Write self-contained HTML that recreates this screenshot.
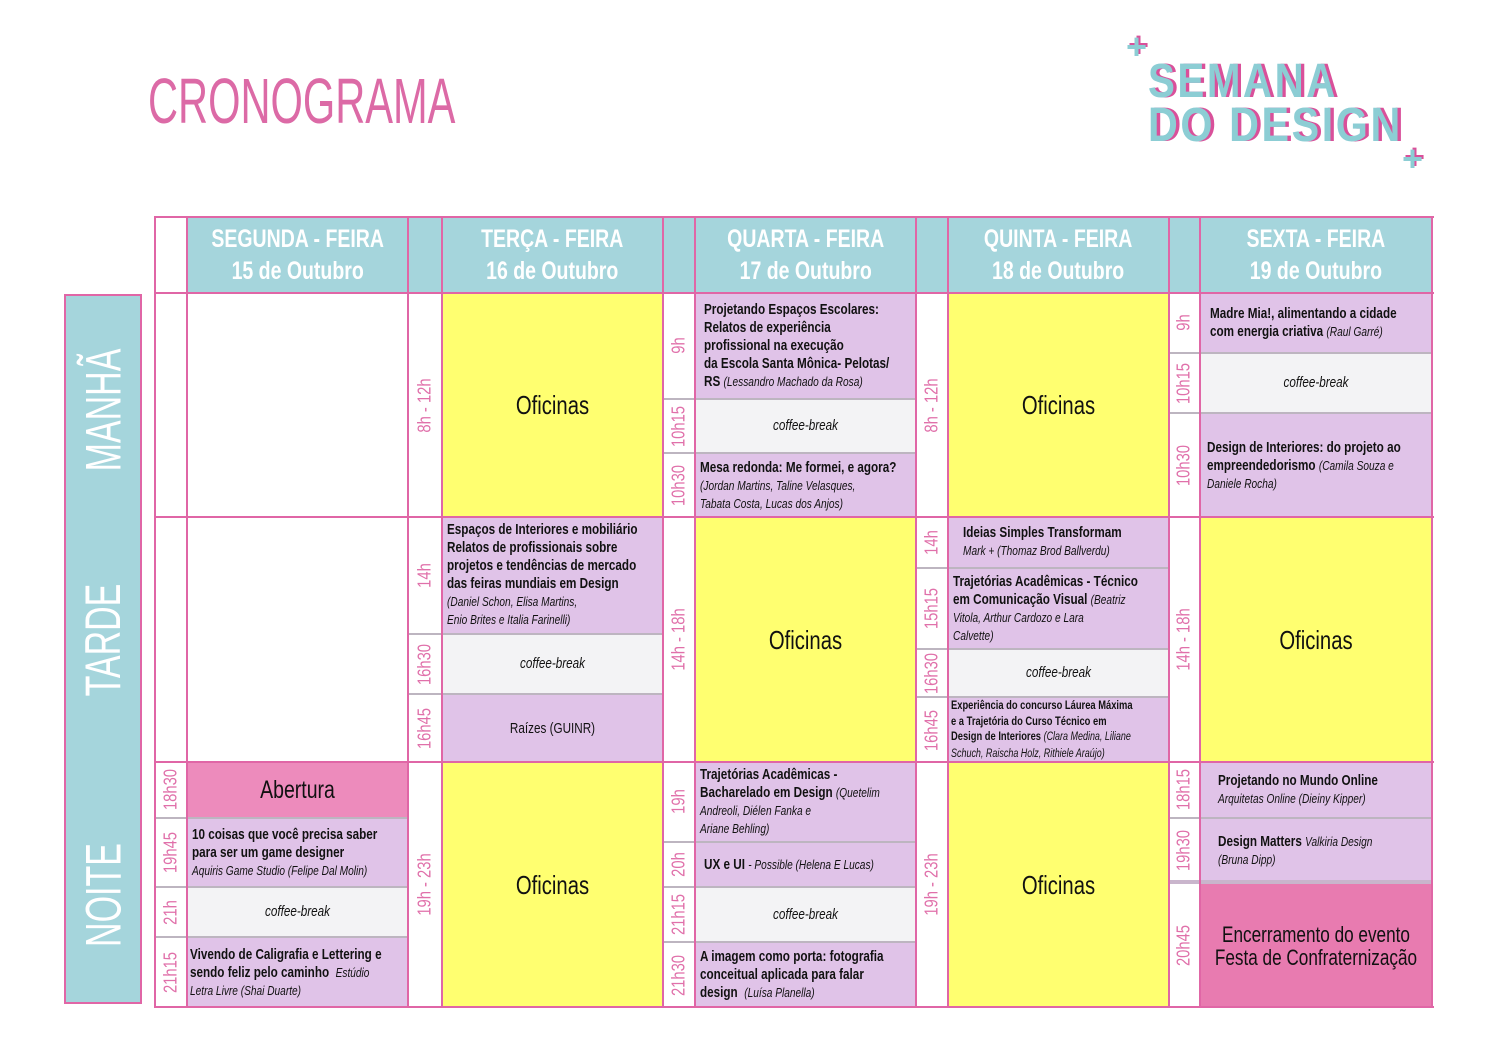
<!DOCTYPE html>
<html><head><meta charset="utf-8"><style>
body{margin:0;width:1500px;height:1050px;background:#fff;position:relative;overflow:hidden;font-family:"Liberation Sans",sans-serif;}
.c{position:absolute;box-sizing:border-box;display:flex;flex-direction:column;justify-content:center;align-items:flex-start;padding:0 5px;color:#111;font-size:15px;line-height:18px;overflow:hidden}
.w{width:128.2%;transform:scaleX(.78);transform-origin:0 50%;flex:none}
.b{font-weight:bold;}
.i{font-style:italic;font-size:13px;font-weight:normal;}
.lav{background:#e0c3e8;}
.yel{background:#ffff70;font-size:26px;}
.yel .w,.cof .w,.ctr .w{text-align:center}
.cof{background:#f3f3f5;}
.cof .w{font-style:italic;font-size:15px;}
.gt{border-top:2px solid #bdb5c0;}
.t{position:absolute;box-sizing:border-box;display:flex;align-items:center;justify-content:center;}
.t span{transform:rotate(-90deg) scaleX(.82);white-space:nowrap;color:#e070aa;font-size:18px;}
.v{position:absolute;background:#e066a6;width:2px;top:216px;height:792px;}
.h{position:absolute;background:#e066a6;height:2px;left:154px;width:1280px;}
.hd{position:absolute;top:217px;height:76px;background:#a5d5dc;color:#fff;font-weight:bold;font-size:25px;line-height:32px;text-align:center;display:flex;align-items:center;justify-content:center;}
.hd div{transform:scaleX(.78);white-space:nowrap}
.side{position:absolute;left:64px;width:78px;background:#a5d5dc;}
.st{position:absolute;left:64px;width:78px;display:flex;align-items:center;justify-content:center;}
.st span{transform:rotate(-90deg) scaleX(.68);color:#fff;font-size:50px;white-space:nowrap;}
.logo{position:absolute;font-weight:bold;font-size:48px;color:#8ccdd4;text-shadow:4px 0 #d9509a;letter-spacing:3px;line-height:44px;transform-origin:0 0;white-space:nowrap}
.plus{position:absolute;color:#8ccdd4;font-weight:bold;font-size:36px;text-shadow:2px -2px #d9509a;}
</style></head><body>
<div style="position:absolute;left:148px;top:64px;font-size:64px;color:#dc6aa6;transform:scaleX(.65);transform-origin:0 0;white-space:nowrap">CRONOGRAMA</div>
<div class="plus" style="left:1126px;top:26px">+</div>
<div class="logo" style="left:1148px;top:60px;transform:scaleX(.84)">SEMANA</div>
<div class="logo" style="left:1148px;top:104px;transform:scaleX(.86)">DO DESIGN</div>
<div class="plus" style="left:1402px;top:138px">+</div>

<div class="side" style="top:294px;height:710px;border:2px solid #e066a6;box-sizing:border-box"></div>
<div class="st" style="top:300px;height:220px"><span>MANHÃ</span></div>
<div class="st" style="top:530px;height:220px"><span>TARDE</span></div>
<div class="st" style="top:790px;height:210px"><span>NOITE</span></div>

<div class="hd" style="left:187px;width:221px"><div>SEGUNDA - FEIRA<br>15 de Outubro</div></div>
<div class="hd" style="left:408px;width:34px"></div>
<div class="hd" style="left:442px;width:221px"><div>TERÇA - FEIRA<br>16 de Outubro</div></div>
<div class="hd" style="left:663px;width:32px"></div>
<div class="hd" style="left:695px;width:221px"><div>QUARTA - FEIRA<br>17 de Outubro</div></div>
<div class="hd" style="left:916px;width:32px"></div>
<div class="hd" style="left:948px;width:221px"><div>QUINTA - FEIRA<br>18 de Outubro</div></div>
<div class="hd" style="left:1169px;width:31px"></div>
<div class="hd" style="left:1200px;width:232px"><div>SEXTA - FEIRA<br>19 de Outubro</div></div>

<!-- Monday -->
<div class="t" style="left:155px;top:762px;width:32px;height:55px"><span>18h30</span></div>
<div class="t gt" style="left:155px;top:817px;width:32px;height:69px"><span>19h45</span></div>
<div class="t gt" style="left:155px;top:886px;width:32px;height:50px"><span>21h</span></div>
<div class="t gt" style="left:155px;top:936px;width:32px;height:71px"><span>21h15</span></div>
<div class="c ctr" style="left:187px;top:762px;width:221px;height:55px;background:#ed8bbc;font-size:25px"><div class="w">Abertura</div></div>
<div class="c lav gt b" style="left:187px;top:817px;width:221px;height:69px"><div class="w">10 coisas que você precisa saber<br>para ser um game designer<br><span class="i">Aquiris Game Studio (Felipe Dal Molin)</span></div></div>
<div class="c cof gt" style="left:187px;top:886px;width:221px;height:50px"><div class="w">coffee-break</div></div>
<div class="c lav gt b" style="left:187px;top:936px;width:221px;height:71px;padding:0 3px"><div class="w">Vivendo de Caligrafia e Lettering e<br>sendo feliz pelo caminho &nbsp;<span class="i">Estúdio<br>Letra Livre (Shai Duarte)</span></div></div>

<div class="t" style="left:408px;top:293px;width:34px;height:224px"><span>8h - 12h</span></div>
<div class="t" style="left:408px;top:762px;width:34px;height:245px"><span>19h - 23h</span></div>
<div class="t" style="left:408px;top:517px;width:34px;height:116px"><span>14h</span></div>
<div class="t gt" style="left:408px;top:633px;width:34px;height:60px"><span>16h30</span></div>
<div class="t gt" style="left:408px;top:693px;width:34px;height:69px"><span>16h45</span></div>

<!-- Tuesday -->
<div class="c yel" style="left:442px;top:293px;width:221px;height:224px"><div class="w">Oficinas</div></div>
<div class="c lav b" style="left:442px;top:517px;width:221px;height:116px"><div class="w">Espaços de Interiores e mobiliário<br>Relatos de profissionais sobre<br>projetos e tendências de mercado<br>das feiras mundiais em Design<br><span class="i">(Daniel Schon, Elisa Martins,<br>Enio Brites e Italia Farinelli)</span></div></div>
<div class="c cof gt" style="left:442px;top:633px;width:221px;height:60px"><div class="w">coffee-break</div></div>
<div class="c lav gt ctr" style="left:442px;top:693px;width:221px;height:69px"><div class="w">Raízes (GUINR)</div></div>
<div class="c yel" style="left:442px;top:762px;width:221px;height:245px"><div class="w">Oficinas</div></div>

<div class="t" style="left:663px;top:293px;width:32px;height:105px"><span>9h</span></div>
<div class="t gt" style="left:663px;top:398px;width:32px;height:54px"><span>10h15</span></div>
<div class="t gt" style="left:663px;top:452px;width:32px;height:65px"><span>10h30</span></div>
<div class="t" style="left:663px;top:517px;width:32px;height:245px"><span>14h - 18h</span></div>
<div class="t" style="left:663px;top:762px;width:32px;height:79px"><span>19h</span></div>
<div class="t gt" style="left:663px;top:841px;width:32px;height:45px"><span>20h</span></div>
<div class="t gt" style="left:663px;top:886px;width:32px;height:55px"><span>21h15</span></div>
<div class="t gt" style="left:663px;top:941px;width:32px;height:66px"><span>21h30</span></div>

<!-- Wednesday -->
<div class="c lav b" style="left:695px;top:293px;width:221px;height:105px;padding-left:9px"><div class="w">Projetando Espaços Escolares:<br>Relatos de experiência<br>profissional na execução<br>da Escola Santa Mônica- Pelotas/<br>RS <span class="i">(Lessandro Machado da Rosa)</span></div></div>
<div class="c cof gt" style="left:695px;top:398px;width:221px;height:54px"><div class="w">coffee-break</div></div>
<div class="c lav gt b" style="left:695px;top:452px;width:221px;height:65px"><div class="w">Mesa redonda: Me formei, e agora?<br><span class="i">(Jordan Martins, Taline Velasques,<br>Tabata Costa, Lucas dos Anjos)</span></div></div>
<div class="c yel" style="left:695px;top:517px;width:221px;height:245px"><div class="w">Oficinas</div></div>
<div class="c lav b" style="left:695px;top:762px;width:221px;height:79px"><div class="w">Trajetórias Acadêmicas -<br>Bacharelado em Design <span class="i">(Quetelim<br>Andreoli, Diélen Fanka e<br>Ariane Behling)</span></div></div>
<div class="c lav gt b" style="left:695px;top:841px;width:221px;height:45px;padding-left:9px"><div class="w">UX e UI <span class="i">- Possible (Helena E Lucas)</span></div></div>
<div class="c cof gt" style="left:695px;top:886px;width:221px;height:55px"><div class="w">coffee-break</div></div>
<div class="c lav gt b" style="left:695px;top:941px;width:221px;height:66px"><div class="w">A imagem como porta: fotografia<br>conceitual aplicada para falar<br>design &nbsp;<span class="i">(Luísa Planella)</span></div></div>

<div class="t" style="left:916px;top:293px;width:32px;height:224px"><span>8h - 12h</span></div>
<div class="t" style="left:916px;top:517px;width:32px;height:50px"><span>14h</span></div>
<div class="t gt" style="left:916px;top:567px;width:32px;height:81px"><span>15h15</span></div>
<div class="t gt" style="left:916px;top:648px;width:32px;height:48px"><span>16h30</span></div>
<div class="t gt" style="left:916px;top:696px;width:32px;height:66px"><span>16h45</span></div>
<div class="t" style="left:916px;top:762px;width:32px;height:245px"><span>19h - 23h</span></div>

<!-- Thursday -->
<div class="c yel" style="left:948px;top:293px;width:221px;height:224px"><div class="w">Oficinas</div></div>
<div class="c lav b" style="left:948px;top:517px;width:221px;height:50px;padding-left:15px"><div class="w">Ideias Simples Transformam<br><span class="i">Mark + (Thomaz Brod Ballverdu)</span></div></div>
<div class="c lav gt b" style="left:948px;top:567px;width:221px;height:81px"><div class="w">Trajetórias Acadêmicas - Técnico<br>em Comunicação Visual <span class="i">(Beatriz<br>Vitola, Arthur Cardozo e Lara<br>Calvette)</span></div></div>
<div class="c cof gt" style="left:948px;top:648px;width:221px;height:48px"><div class="w">coffee-break</div></div>
<div class="c lav gt b" style="left:948px;top:696px;width:221px;height:66px;font-size:12px;line-height:15.5px;padding:0 3px"><div class="w">Experiência do concurso Láurea Máxima<br>e a Trajetória do Curso Técnico em<br>Design de Interiores <span class="i" style="font-size:11.5px">(Clara Medina, Liliane<br>Schuch, Raischa Holz, Rithiele Araújo)</span></div></div>
<div class="c yel" style="left:948px;top:762px;width:221px;height:245px"><div class="w">Oficinas</div></div>

<div class="t" style="left:1169px;top:293px;width:31px;height:59px"><span>9h</span></div>
<div class="t gt" style="left:1169px;top:352px;width:31px;height:60px"><span>10h15</span></div>
<div class="t gt" style="left:1169px;top:412px;width:31px;height:105px"><span>10h30</span></div>
<div class="t" style="left:1169px;top:517px;width:31px;height:245px"><span>14h - 18h</span></div>
<div class="t" style="left:1169px;top:762px;width:31px;height:55px"><span>18h15</span></div>
<div class="t gt" style="left:1169px;top:817px;width:31px;height:65px"><span>19h30</span></div>
<div class="t gt" style="left:1169px;top:882px;width:31px;height:125px"><span>20h45</span></div>

<!-- Friday -->
<div class="c lav b" style="left:1200px;top:293px;width:232px;height:59px;padding-left:10px"><div class="w">Madre Mia!, alimentando a cidade<br>com energia criativa <span class="i">(Raul Garré)</span></div></div>
<div class="c cof gt" style="left:1200px;top:352px;width:232px;height:60px"><div class="w">coffee-break</div></div>
<div class="c lav gt b" style="left:1200px;top:412px;width:232px;height:105px;padding-left:7px"><div class="w">Design de Interiores: do projeto ao<br>empreendedorismo <span class="i">(Camila Souza e<br>Daniele Rocha)</span></div></div>
<div class="c yel" style="left:1200px;top:517px;width:232px;height:245px"><div class="w">Oficinas</div></div>
<div class="c lav b" style="left:1200px;top:762px;width:232px;height:55px;padding-left:18px"><div class="w">Projetando no Mundo Online<br><span class="i">Arquitetas Online (Dieiny Kipper)</span></div></div>
<div class="c lav gt b" style="left:1200px;top:817px;width:232px;height:65px;padding-left:18px"><div class="w">Design Matters <span class="i">Valkiria Design<br>(Bruna Dipp)</span></div></div>
<div style="position:absolute;left:1170px;top:880px;width:262px;height:4px;background:#c9b5cc"></div>
<div class="c ctr" style="left:1200px;top:884px;width:232px;height:123px;background:#e87bb0;font-size:22px;line-height:23px"><div class="w">Encerramento do evento<br>Festa de Confraternização</div></div>

<!-- grid lines -->
<div class="v" style="left:154px"></div><div class="v" style="left:186px"></div>
<div class="v" style="left:407px"></div><div class="v" style="left:441px"></div>
<div class="v" style="left:662px"></div><div class="v" style="left:694px"></div>
<div class="v" style="left:915px"></div><div class="v" style="left:947px"></div>
<div class="v" style="left:1168px"></div><div class="v" style="left:1199px"></div>
<div class="v" style="left:1431px"></div>
<div class="h" style="top:216px"></div><div class="h" style="top:292px"></div>
<div class="h" style="top:516px"></div><div class="h" style="top:761px"></div>
<div class="h" style="top:1006px"></div>
</body></html>
